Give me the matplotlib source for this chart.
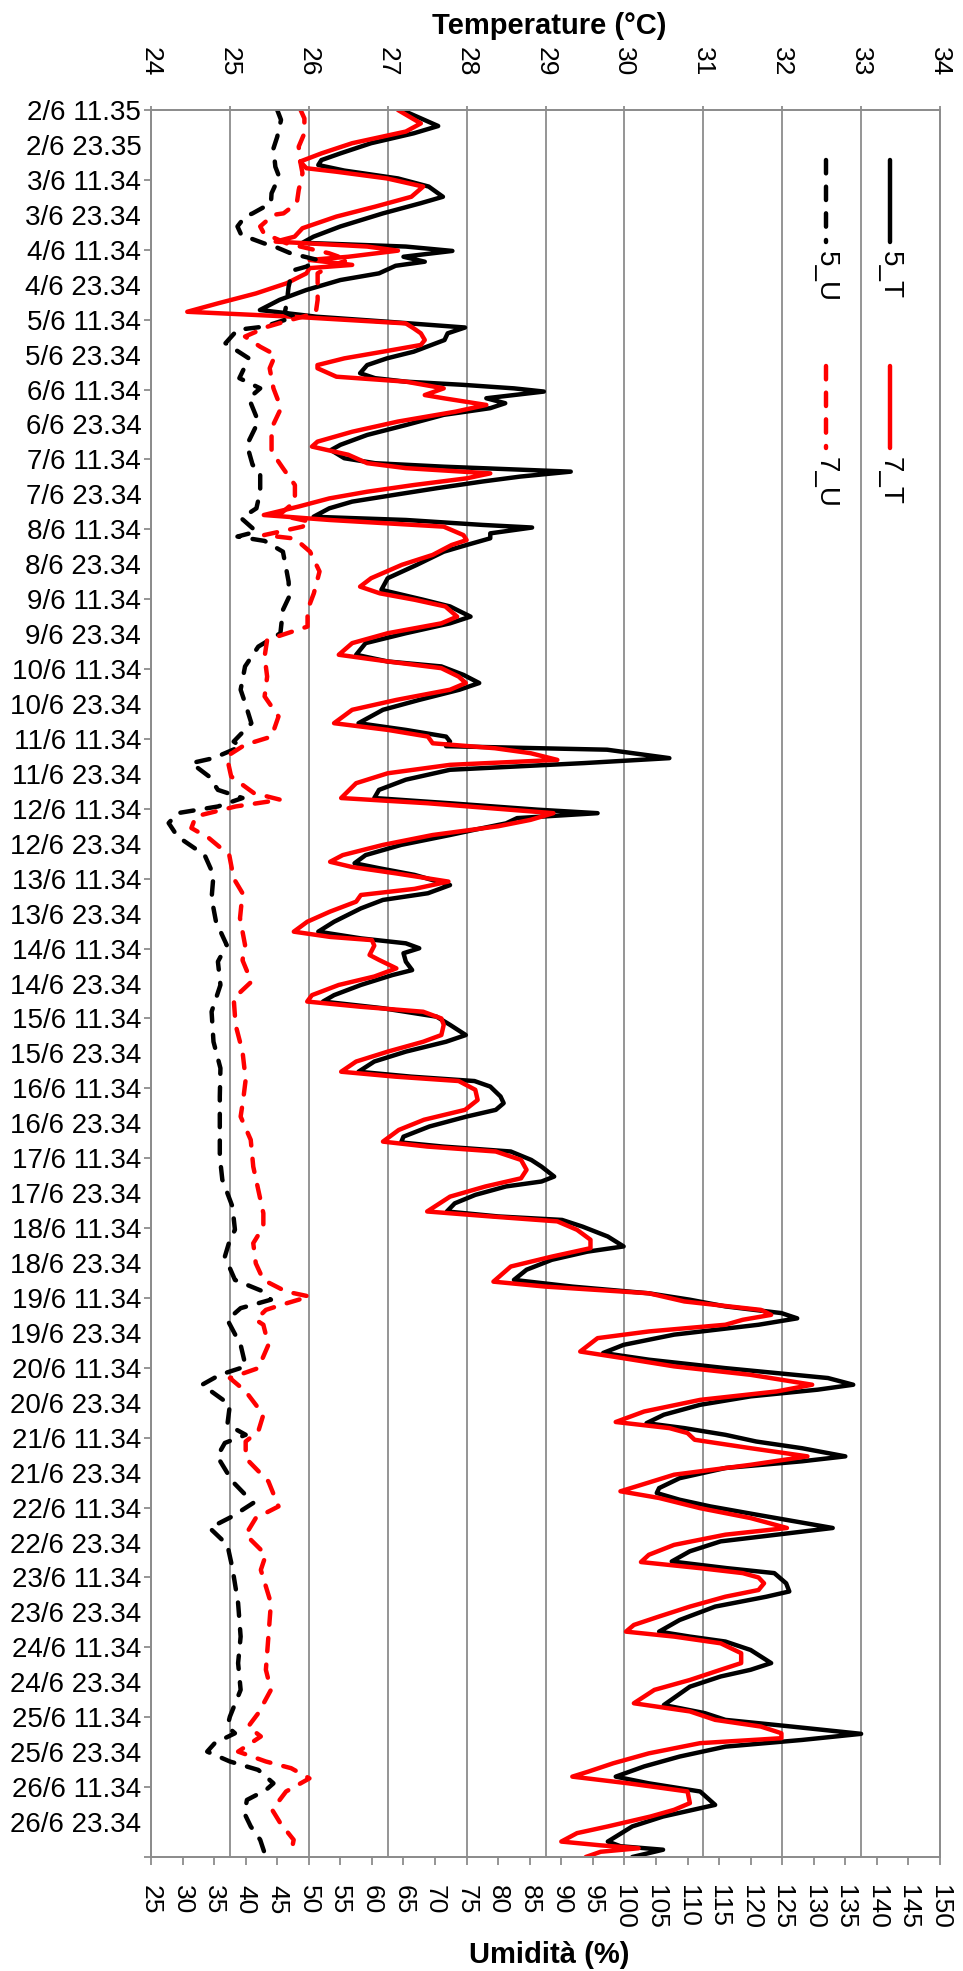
import matplotlib
matplotlib.use('Agg')
import matplotlib.pyplot as plt
from matplotlib.lines import Line2D
from matplotlib.ticker import FixedLocator, FixedFormatter

plt.rcParams['font.family'] = ['Liberation Sans', 'DejaVu Sans']

## Data: (hours since 2/6 11.35, value)
s_5T = [(0,27.18),(5.5,27.64),(8,27.33),(11.4,26.79),(14.9,26.4),(17.2,26.16),(18.9,26.12),(20.8,26.45),(23.5,27.13),(26.3,27.52),(29.8,27.7),(32,27.42),(35.5,26.94),(40,26.4),(43.5,26.06),(45.6,25.92),(46.9,27.23),(48.4,27.82),(50.4,27.2),(52.1,27.47),(53.5,27.1),(56.1,26.89),(58.4,26.4),(61.8,25.97),(65.2,25.63),(68.7,25.38),(71,26.1),(72.7,26.99),(74.7,27.98),(76.7,27.76),(79,27.72),
        (83,27.33),(85.3,26.99),(87.6,26.74),(90.4,26.65),(92.1,26.84),(93.3,27.23),(94.4,27.96),(95.6,28.6),(96.7,28.98),(97.9,28.6),(99,28.25),(100.7,28.49),(102.4,28.3),(104.7,27.71),(108.2,27.23),(111.6,26.74),(115,26.4),(116.8,26.28),(119.6,26.45),(121.3,26.84),(122.5,27.71),(124.2,29.32),(125.9,28.68),(127.6,28.2),(129.9,27.62),(132.2,27.08),(134.5,26.55),(136.8,26.26),(139.7,26.06),(140.8,27.23),(142.5,28.2),(143.4,28.83),(145.4,28.3),(147.1,28.3),(149.4,28.0),(151.7,27.71),(156.2,27.37),(160.8,27.0),(164.8,26.92),
        (168.2,27.45),(170.5,27.79),(174,28.05),(176.3,27.79),(179.7,27.23),(183.1,26.72),(187.1,26.6),(189.4,27.0),(191.1,27.68),(194,27.96),(196.8,28.16),(199.1,27.91),(202.6,27.4),(206,26.94),(210.6,26.63),(212.9,27.23),(215.2,27.74),(216.9,27.79),(218.5,27.74),(219.7,29.78),(222.6,30.57),(224.3,29.49),(226.6,27.79),(230,27.23),(233.5,26.89),(236.3,26.83),(238.1,27.79),(240.3,28.9),(241.5,29.66),(243.2,28.64),(245,28.5),(247.2,28.1),
        (249,27.79),(252.4,27.17),(255.9,26.72),(258.7,26.58),(260.4,26.89),(262.7,27.34),(266.2,27.79),(269,27.51),(271.3,26.94),(274.2,26.66),(278.8,26.32),(282.2,26.12),(284.5,26.66),(286.2,27.23),(287.9,27.4),(289.6,27.2),(292.5,27.23),(295.4,27.31),(297.1,27.06),(300.5,26.66),(304,26.32),(306.2,26.18),(308.5,26.94),(311.4,27.62),(314.2,27.79),(317.7,27.99),(320,27.74),(323.4,27.23),(326.8,26.83),(330.3,26.63),(332,27.3),(333.5,28.1),
        (335.4,28.3),(338.8,28.43),(341.1,28.47),(343.4,28.37),(345.7,28.0),(349.1,27.53),(352.6,27.2),(354.6,27.17),(356,27.7),(357.7,28.56),(360.6,28.82),(362.9,28.95),(366.3,29.11),(368,28.95),(369.7,28.5),(372.6,28.11),(375.5,27.85),(378.3,27.75),(380,28.4),(381.2,29.21),(383.5,29.47),(386.9,29.79),(390.3,29.99),(392.1,29.53),(394.9,29.08),(398.3,28.76),(401.8,28.6),(404.1,29.34),(406.4,30.31),(408.6,30.83),(410.9,31.28),(413.2,31.99),(415,32.19),(417.2,31.7),
        (420.6,30.63),(424.1,29.99),(426.9,29.73),(429.2,30.31),(432.1,31.28),(435.5,32.58),(437.8,32.9),(439.5,32.45),(441.8,31.6),(444.7,30.96),(448.1,30.5),(451,30.28),(452.7,30.76),(455,31.28),(457.3,31.67),(459.6,32.25),(462.4,32.8),(464.1,32.25),(466.4,31.28),(469.9,30.7),(473.3,30.44),(475,30.41),(477.3,30.7),(479.6,31.09),(482.4,31.67),(487,32.64),(489.3,31.93),(491.6,31.22),(495,30.83),(498.5,30.6),(500.8,31.3),(502.5,31.9),
        (506,32.05),(508.8,32.09),(510.6,31.8),(514,31.15),(518.6,30.7),(522.6,30.44),(524.3,30.83),(526,31.28),(528.9,31.6),(533.4,31.86),(535.7,31.6),(538,31.22),(541.5,30.83),(547.8,30.5),(550.6,31.02),(552.9,31.28),(555.2,32.12),(557.7,33.0),(559.8,32.25),(562.1,31.28),(565.5,30.7),(568.9,30.25),(572.4,29.89),(574.7,30.31),(577.5,30.96),(582.1,31.15),(586.1,30.49),(589.5,30.1),(594.7,29.79),(596.3,29.95),(597.5,30.49),(600,30.1)]

s_7T = [(0,27.13),(4.6,27.42),(7.4,27.23),(11.4,26.55),(14.9,26.16),(17.7,25.89),(20,25.97),(21.2,26.35),(23.5,26.99),(26.3,27.45),(29.8,27.3),(33.2,26.84),(36.6,26.35),(40.6,25.92),(43.5,25.82),(45.2,25.58),(46.9,26.74),(48.3,27.13),(50.4,26.5),(51.5,26.01),(53.2,26.55),(54.3,26.01),(56.1,25.97),(59.5,25.72),(63,25.33),(66.4,24.85),(69.3,24.46),(71,25.8),(73.3,27.23),(75,27.33),(76.7,27.42),(79,27.47),
        (80.7,27.42),(83,26.94),(85.3,26.45),(87.6,26.11),(88.7,26.11),(91.6,26.35),(93.3,27.23),(95.6,27.71),(97.9,27.47),(99,27.71),(101.3,28.25),(103.6,27.86),(107,27.13),(110.5,26.55),(113.9,26.11),(115.6,26.04),(118.4,26.5),(121.3,26.74),(123,27.23),(124.8,28.3),(126.5,28.0),(128.8,27.33),(131.1,26.74),(133.4,26.26),(136.2,25.87),(139.1,25.43),(140.8,26.26),(143.1,27.71),(146,27.96),(147.7,28.0),(149.4,27.81),(152.8,27.57),(156.2,27.18),(160.8,26.79),(163.7,26.65),
        (166,26.9),(168.2,27.34),(170.5,27.73),(174,27.88),(176.3,27.68),(179.7,27.0),(183.1,26.55),(187.1,26.38),(189.4,27.0),(191.7,27.68),(194.6,27.9),(196.8,27.99),(199.1,27.79),(202.6,27.11),(206,26.55),(210.6,26.32),(212.9,27.0),(215.2,27.51),(217.5,27.57),(219.2,28.36),(220.9,28.81),(223.2,29.15),(224.9,27.79),(227.8,27.0),(231.2,26.6),(236.3,26.41),(238.1,27.51),(241.5,29.1),(243.8,28.81),(246,28.4),
        (249,27.57),(252.4,26.94),(255.9,26.43),(258.2,26.27),(260,26.55),(262.2,27.11),(265,27.77),(267.5,27.34),(269.6,26.66),(271.9,26.6),(275.3,26.27),(278.8,25.98),(282.2,25.81),(284,26.27),(285.1,26.8),(287,26.83),(290.2,26.77),(291.9,26.89),(294.8,27.11),(297.6,26.83),(300.5,26.38),(304,26.04),(306.2,25.98),(308,26.66),(309.7,27.45),(312,27.68),(314.2,27.71),(317.7,27.68),(320,27.45),(323.4,27.0),(326.8,26.6),(330.3,26.41),(332,27.1),(333.5,27.9),
        (336.5,28.11),(340,28.14),(343.4,27.98),(346.8,27.46),(350.3,27.14),(354.3,26.94),(356,27.5),(357.7,28.37),(360.6,28.69),(364,28.76),(366.9,28.69),(369.7,28.24),(373.2,27.79),(378.3,27.5),(380,28.3),(381.7,29.15),(384.6,29.4),(388,29.57),(390.9,29.57),(393.8,29.08),(397.2,28.56),(402.4,28.34),(404.1,29.0),(406.4,30.31),(409.2,30.76),(412.1,31.73),(413.8,31.86),(415.5,31.5),(417.2,31.28),
        (419.5,30.31),(421.8,29.66),(426.4,29.44),(428.7,29.99),(431.5,30.63),(434.4,31.6),(437.8,32.38),(440.1,31.93),(443,30.96),(447,30.25),(450.6,29.89),(452.7,30.57),(454.4,30.8),(456.7,30.89),(459.6,31.6),(462.4,32.32),(465.3,31.6),(468.7,30.63),(474.4,29.95),(476.7,30.44),(480.2,30.96),(483.6,31.6),(487,32.06),(489.3,31.28),(492.8,30.63),(496.2,30.31),(498.7,30.21),(500.8,30.96),(502.5,31.5),
        (504,31.7),(506,31.77),(508.3,31.7),(510.6,31.28),(514,30.83),(517.4,30.44),(520.3,30.12),(522.6,30.02),(524.3,30.63),(526.6,31.22),(530,31.48),(533.4,31.48),(535.7,31.22),(539.2,30.83),(542.6,30.38),(547.2,30.12),(550,30.83),(552.9,31.15),(555.2,31.73),(557.5,31.99),(559.2,31.99),(560.9,30.96),(564.4,30.31),(567.8,29.86),(570.7,29.54),(572.4,29.34),(574.7,30.05),(577.5,30.8),(581.5,30.83),(583.8,30.63),(586.1,30.33),(589.5,29.79),(591.8,29.4),(594.7,29.2),(596,29.7),(597,30.18),(598.2,29.7),(600,29.51)]

s_5U = [(0,45.0),(3.4,45.6),(9.2,45.0),(13.2,44.4),(19.5,44.7),(22.9,45.3),(28.6,44.1),(32,44.0),(35.5,41.1),(36.6,39.9),(40,38.7),(42.9,39.3),(45.8,42.9),(47,44.7),(49.2,47.1),(51.5,51.4),(53.8,49.6),(54.9,47.8),(57,47.2),(60.7,46.8),(66.4,46.5),(69.5,46.2),(71,47.8),(74.4,42.9),(75.5,38.7),(80.1,36.8),(85.3,40.5),(92.1,39.0),(95.6,42.3),(99,40.5),(107,42.0),(115,40.2),(121.9,41.1),(124,42.3),(131.1,42.3),(136.8,41.7),(140.2,39.3),(144.8,41.7),(146.5,38.7),(148,43.0),(151.7,45.9),(158.5,46.5),(162,46.8),
        (167.1,46.9),(171.7,45.9),(179.7,45.5),(184.3,42.0),(191.1,39.9),(199.1,39.2),(203.6,39.9),(210.6,40.9),(216.9,38.1),(218.6,39.2),(222.6,34.9),(224.3,31.4),(228.9,34.2),(233.5,35.6),(236.3,39.5),(239.2,35.6),(241.5,29.2),(244.9,27.8),(249.5,29.2),(255.9,33.5),(262.7,34.9),(270.7,34.6),(278.8,35.3),(286.8,37.0),(292.5,35.6),(300.5,36.0),(309.7,34.6),(320,34.9),(329.1,36.0),(338.8,35.9),(348,35.9),(359.4,35.9),(367.4,36.3),(376.6,37.9),(384.6,38.3),(388,37.5),(393.8,36.7),(401.8,38.3),(405.8,42.8),(408.6,44.0),(411.5,39.2),(415.5,37.1),
        (424.1,39.2),(431.5,40.0),(434.4,35.9),(437.8,33.1),(444.7,37.5),(451.5,37.1),(455,40.0),(457.8,36.7),(462.4,35.5),(471,37.9),(478.4,41.2),(483,37.9),(487,34.3),(492.8,37.1),(500.8,37.9),(512.8,38.8),(524.3,39.2),(533.4,38.8),(542.6,39.2),(551.8,37.5),(555.2,37.1),(557.5,38.3),(560.9,35.1),(563.8,33.9),(567.2,37.5),(570.1,42.0),(574.7,44.4),(577,43.2),(580.4,40.2),(585,39.8),(589.5,40.8),(594.1,42.3),(600,43.2)]

s_7U = [(0,48.7),(2.9,49.3),(8,49.3),(12.6,48.4),(18.3,48.7),(21.7,49.0),(27.5,48.4),(32,48.1),(35.5,46.0),(36,44.4),(40,42.3),(42.4,42.9),(45.8,46.5),(49.2,53.2),(51.5,56.2),(53.8,53.2),(56.1,51.4),(60,51.4),(65.2,51.4),(69.8,51.1),(72.1,47.1),(74.4,43.5),(77.8,39.9),(81.3,42.3),(84.1,44.7),(88.7,43.8),(95.6,44.4),(102.4,45.6),(109.3,44.1),(117.3,44.1),(123,45.9),(128.8,47.8),(134.5,47.8),(139.1,45.3),(141.4,50.2),(143.1,49.0),(146,42.9),(147.2,47.8),(151.7,50.2),(158.5,51.7),
        (166,50.8),(171.7,49.8),(177.4,49.8),(182,43.4),(187.7,43.0),(194.6,43.4),(201.4,43.0),(208.3,45.2),(215.2,44.1),(218,39.9),(222,37.0),(228.9,37.7),(234.6,41.3),(236.9,45.5),(239.2,38.4),(242.6,32.1),(246.6,31.4),(250.1,34.2),(255.9,37.4),(263.9,38.1),(269,39.5),(277.6,39.1),(286.8,39.9),(292,39.5),(299.4,40.9),(305.1,38.1),(314.2,38.4),(323.4,39.5),(333,40.0),(340,39.6),(345.7,39.2),(353.7,40.8),(362.9,41.2),(370.9,42.0),(378.9,42.8),(383.5,42.8),(389.2,41.2),(396.1,41.6),(401.8,42.8),(405.8,46.4),(407.5,50.1),(410.4,45.6),(412.1,43.2),(415.5,41.6),
        (417.2,42.8),(424.1,43.6),(432.1,42.0),(435.5,37.5),(440.1,40.0),(448.1,42.8),(453.8,42.0),(457.3,40.0),(463,40.0),(471,43.6),(479.6,45.2),(483.6,41.6),(489.3,40.0),(496.2,43.2),(501.4,42.4),(512.8,44.0),(524.3,43.6),(535.7,43.2),(542.6,44.0),(550.6,42.0),(555.2,40.4),(558.6,42.4),(563.8,38.8),(567.2,43.2),(569.5,47.2),(573,50.1),(577.5,46.4),(583.8,44.2),(588.4,45.5),(594.1,47.6),(600,47.1)]

## Time axis labels (every 12 h)
major_labels = ['2/6 11.35'] + ['%d/6 11.34' % d for d in range(3, 27)] + ['']
minor_labels = ['2/6 23.35'] + ['%d/6 23.34' % d for d in range(3, 27)]

GRAY = '#8c8c8c'
LW = 3.2
DASH = (3.0, 3.0)

def unzip(s):
    return [p[1] for p in s], [p[0] for p in s]

fig = plt.figure(figsize=(9.63, 19.71), dpi=100)
ax = fig.add_axes([151/963, 114/1971, 789/963, 1747/1971])   # humidity (bottom)
ax2 = ax.twiny()                                              # temperature (top)
ax.set_zorder(ax2.get_zorder() + 1)
ax.patch.set_visible(False)

## Temperature axis + grid
ax2.set_xlim(24, 34)
ax2.set_xticks(range(24, 35))
ax2.grid(axis='x', color=GRAY, lw=1.3)
ax2.set_axisbelow(True)
ax2.tick_params(axis='x', direction='out', length=3, width=1.3, color=GRAY,
                labelsize=19, labelrotation=-90, pad=21)
x, y = unzip(s_5T)
ax2.plot(x, y, color='black', lw=LW, solid_joinstyle='round', solid_capstyle='round')
x, y = unzip(s_7T)
ax2.plot(x, y, color='red', lw=LW, solid_joinstyle='round', solid_capstyle='round')

## Humidity axis
ax.set_xlim(25, 150)
ax.set_xticks(range(25, 151, 5))
ax.tick_params(axis='x', direction='out', length=6, width=1.3, color=GRAY,
               labelsize=19, labelrotation=-90, pad=14)
x, y = unzip(s_5U)
ax.plot(x, y, color='black', lw=LW, dashes=DASH, dash_capstyle='round')
x, y = unzip(s_7U)
ax.plot(x, y, color='red', lw=LW, dashes=DASH, dash_capstyle='round')

## Time axis
ax.set_ylim(600, 0)
ax.yaxis.set_major_locator(FixedLocator(list(range(0, 601, 24))))
ax.yaxis.set_major_formatter(FixedFormatter(major_labels))
ax.yaxis.set_minor_locator(FixedLocator(list(range(12, 600, 24))))
ax.yaxis.set_minor_formatter(FixedFormatter(minor_labels))
ax.tick_params(axis='y', which='major', direction='out', length=5, width=1.3,
               color=GRAY, labelsize=20, pad=2)
ax.tick_params(axis='y', which='minor', length=0, labelsize=20, pad=7)

for a in (ax, ax2):
    for sp in a.spines.values():
        sp.set_color(GRAY)
        sp.set_linewidth(1.3)

## Axis titles
fig.text(549/963, 1 - 26/1971, 'Temperature (°C)', fontsize=21, fontweight='bold',
         ha='center', va='center')
fig.text(549/963, 1 - 1955/1971, 'Umidità (%)', fontsize=21, fontweight='bold',
         ha='center', va='center')

## Legend (rotated, drawn by hand)
legend_items = [('5_T', 'black', '-', 890, 160), ('7_T', 'red', '-', 890, 366),
                ('5_U', 'black', '--', 826, 160), ('7_U', 'red', '--', 826, 366)]
for name, col, ls, lx, ly in legend_items:
    kw = dict(dashes=DASH, dash_capstyle='round') if ls == '--' else dict(solid_capstyle='round')
    fig.add_artist(Line2D([lx/963, lx/963], [1 - ly/1971, 1 - (ly + 82)/1971],
                          transform=fig.transFigure, color=col, lw=LW, **kw))
    fig.text(lx/963, 1 - (ly + 91)/1971, name, fontsize=20, rotation=-90,
             rotation_mode='anchor', ha='left', va='center')

fig.savefig('out.png', dpi=100)
